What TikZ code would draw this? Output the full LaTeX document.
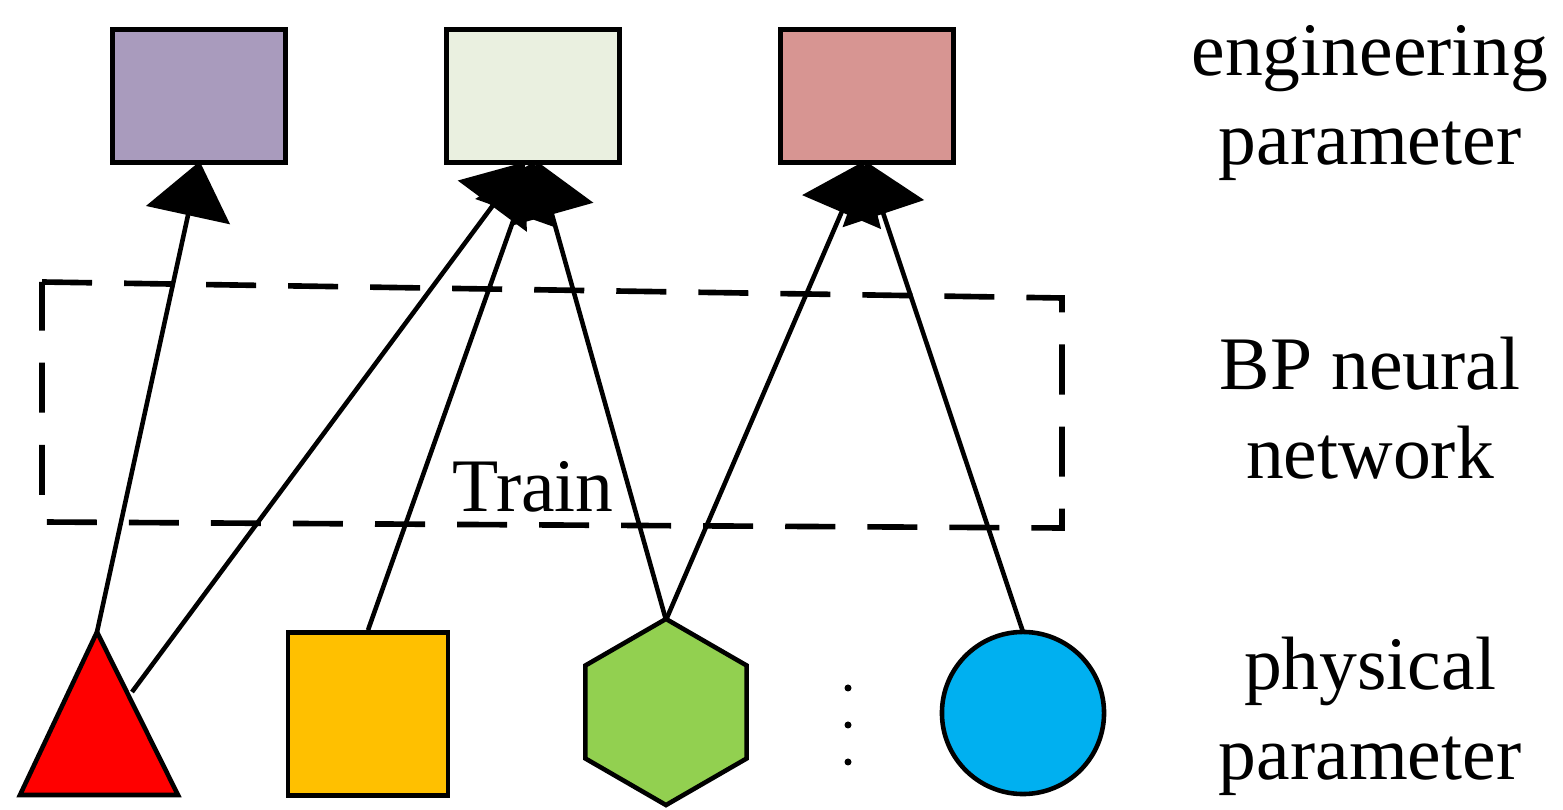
\documentclass[tikz,border=0pt]{standalone}
\usepackage{fontspec}
\setmainfont{Liberation Serif}
\usetikzlibrary{shapes.geometric,arrows.meta}
\definecolor{cpurple}{HTML}{A99BBD}
\definecolor{cgreen}{HTML}{EAF0E0}
\definecolor{cpink}{HTML}{D79592}
\definecolor{cyellow}{HTML}{FFC000}
\definecolor{chex}{HTML}{92D050}
\definecolor{cblue}{HTML}{00B0F0}
\begin{document}
\begin{tikzpicture}[x=0.01cm,y=-0.01cm,line width=1.3pt,font=\fontsize{21.5}{25.5}\selectfont,
  box/.style={draw,minimum width=1.73cm,minimum height=1.33cm,inner sep=0pt},
  arr/.style={-{Triangle[length=0.55cm,width=0.85cm]},shorten >=-1pt},
  lbl/.style={align=center}]
\useasboundingbox (0,0) rectangle (1563,810);
\node[box,fill=cpurple] (e1) at (199,96) {};
\node[box,fill=cgreen] (e2) at (533,96) {};
\node[box,fill=cpink] (e3) at (867,96) {};
\draw[line width=1.6pt,dash pattern=on 0.5cm off 0.32cm] (42,282) -- (1062,298) -- (1062,528) -- (42,522) -- cycle;
\node (train) at (533,487) {Train};
\draw[fill=red] (20,795) coordinate (p1a) -- (97,632) coordinate (t1) -- (178,795) -- cycle;
\node[box,fill=cyellow,minimum width=1.6cm,minimum height=1.63cm] (p2) at (368,714) {};
\node[draw,fill=chex,regular polygon,regular polygon sides=6,rotate=30,minimum size=1.86cm,inner sep=0pt] (p3) at (666,712) {};
\node[draw,fill=cblue,circle,minimum size=1.62cm,inner sep=0pt] (p4) at (1023,713) {};
\foreach \y in {688,725,762} \fill (848,\y) circle (0.035cm);
\coordinate (t2) at (132,692);
\coordinate (h1) at (666,620);
\coordinate (c1) at (1023,632);
\draw[arr] (t1) -- (e1.south);
\draw[arr] (t2) -- ([xshift=-0.1cm]e2.south);
\draw[arr] (p2.north) -- (e2.south);
\draw[arr] (h1) -- ([xshift=0.05cm]e2.south);
\draw[arr] (h1) -- ([xshift=-0.05cm]e3.south);
\draw[arr] (c1) -- (e3.south);
\node[lbl] (l1) at (1370,103) {engineering\\parameter};
\node[lbl] (l2) at (1370,408) {BP neural\\network};
\node[lbl] (l3) at (1370,716) {physical\\parameter};
\end{tikzpicture}
\end{document}
